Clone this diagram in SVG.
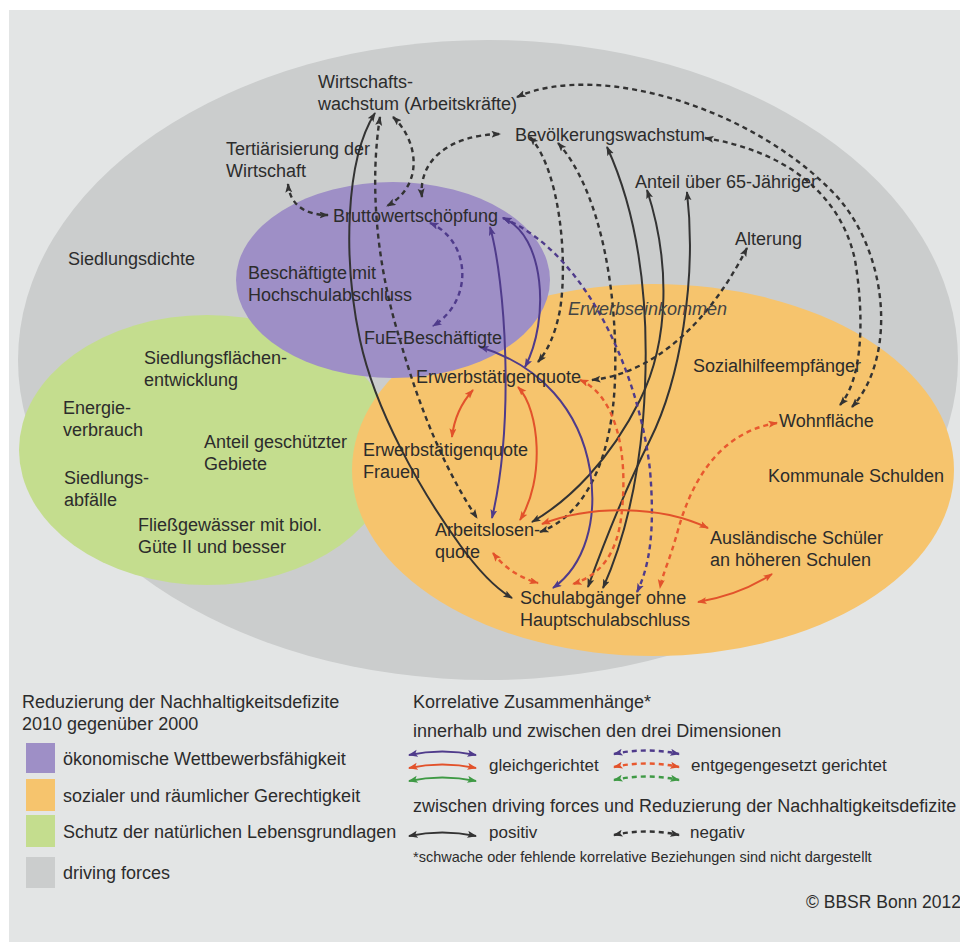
<svg xmlns="http://www.w3.org/2000/svg" width="960" height="942" viewBox="0 0 960 942">
  <defs>
    <style>
      .t { font-family: "Liberation Sans", Arial, Helvetica, sans-serif; font-size: 18px; fill: #2c2c2c; }
      .it { font-style: italic; fill: #444; }
      .sm { font-size: 17px; }
      .fn { font-size: 14.5px; }
      .k  { fill: none; stroke: #333; stroke-width: 2; }
      .kd { fill: none; stroke: #333; stroke-width: 2.4; stroke-dasharray: 5 4; }
      .p  { fill: none; stroke: #4f3b8b; stroke-width: 2; }
      .pd { fill: none; stroke: #4f3b8b; stroke-width: 2.4; stroke-dasharray: 5 4; }
      .r  { fill: none; stroke: #e2522b; stroke-width: 2; }
      .rd { fill: none; stroke: #e8592f; stroke-width: 2.4; stroke-dasharray: 5 4; }
      .g  { fill: none; stroke: #3f9a45; stroke-width: 2; }
      .gd { fill: none; stroke: #3f9a45; stroke-width: 2.4; stroke-dasharray: 5 4; }
      .k, .kd { marker-start: url(#ak); marker-end: url(#ak); }
      .p, .pd { marker-start: url(#ap); marker-end: url(#ap); }
      .r, .rd { marker-start: url(#ar); marker-end: url(#ar); }
      .g, .gd { marker-start: url(#ag); marker-end: url(#ag); }
    </style>
    <marker id="ak" markerUnits="userSpaceOnUse" markerWidth="10" markerHeight="8" refX="8.5" refY="3.5" orient="auto-start-reverse">
      <path d="M0,0 L9.5,3.5 L0,7 L2,3.5 z" fill="#333"/>
    </marker>
    <marker id="ap" markerUnits="userSpaceOnUse" markerWidth="10" markerHeight="8" refX="8.5" refY="3.5" orient="auto-start-reverse">
      <path d="M0,0 L9.5,3.5 L0,7 L2,3.5 z" fill="#4f3b8b"/>
    </marker>
    <marker id="ar" markerUnits="userSpaceOnUse" markerWidth="10" markerHeight="8" refX="8.5" refY="3.5" orient="auto-start-reverse">
      <path d="M0,0 L9.5,3.5 L0,7 L2,3.5 z" fill="#e2522b"/>
    </marker>
    <marker id="ag" markerUnits="userSpaceOnUse" markerWidth="10" markerHeight="8" refX="8.5" refY="3.5" orient="auto-start-reverse">
      <path d="M0,0 L9.5,3.5 L0,7 L2,3.5 z" fill="#3f9a45"/>
    </marker>
  </defs>

  <!-- page and panel -->
  <rect x="0" y="0" width="960" height="942" fill="#ffffff"/>
  <rect x="9" y="10" width="951" height="932" fill="#e3e5e5"/>

  <!-- dimension areas -->
  <g id="areas">
    <ellipse id="area-driving-forces" cx="488" cy="360" rx="470" ry="320" fill="#cbcdcd"/>
    <ellipse id="area-natur" cx="207" cy="450" rx="188" ry="135" fill="#c4dd8e"/>
    <ellipse id="area-sozial" cx="653" cy="470" rx="301" ry="186" fill="#f6c46d"/>
    <ellipse id="area-oekonomie" cx="393" cy="280" rx="157" ry="98" fill="#9e8fc6"/>
  </g>

  <!-- correlations -->
  <g id="connectors">
    <!-- driving forces, negative -->
    <path class="kd" d="M517,97 C600,60 760,110 840,200 C890,260 895,360 852,407"/>
    <path class="kd" d="M705,138 C780,150 840,190 855,260 C865,320 862,380 840,405"/>
    <path class="kd" d="M422,197 C418,160 450,135 500,134"/>
    <path class="kd" d="M393,117 C418,140 425,185 387,206"/>
    <path class="kd" d="M380,117 C370,180 375,260 400,340 C420,410 445,470 477,518"/>
    <path class="kd" d="M288,184 C290,205 305,215 328,215"/>
    <path class="kd" d="M530,137 C560,170 568,260 560,310 C555,335 548,350 538,362"/>
    <path class="kd" d="M558,143 C600,190 618,290 615,380 C612,460 585,515 540,532"/>
    <path class="kd" d="M592,380 C640,375 700,340 747,248"/>
    <!-- driving forces, positive -->
    <path class="k" d="M375,113 C345,160 343,260 360,340 C375,410 420,490 460,545 C478,570 495,588 512,598"/>
    <path class="k" d="M607,147 C645,230 650,330 643,420 C636,500 620,550 603,588"/>
    <path class="k" d="M687,192 C697,280 680,380 650,440 C625,490 605,540 588,587"/>
    <path class="k" d="M647,190 C670,260 670,340 640,400 C610,460 570,500 532,522"/>
    <!-- economic -->
    <path class="pd" d="M430,223 C470,240 475,300 433,326"/>
    <path class="p" d="M490,227 C505,280 515,420 492,518"/>
    <path class="p" d="M503,218 C545,235 550,320 525,367"/>
    <path class="p" d="M480,347 C540,365 580,410 590,470 C598,520 585,565 553,588"/>
    <path class="pd" d="M503,218 C590,255 640,380 650,470 C655,530 650,565 637,592"/>
    <!-- social -->
    <path class="r" d="M473,390 Q455,410 452,437"/>
    <path class="r" d="M518,387 C540,410 545,480 520,520"/>
    <path class="r" d="M542,524 C590,505 660,505 708,528"/>
    <path class="rd" d="M493,553 Q510,575 538,583"/>
    <path class="rd" d="M580,380 C615,395 628,450 622,510 C618,555 600,575 573,584"/>
    <path class="rd" d="M777,423 C720,432 692,480 678,530 C670,560 662,575 660,588"/>
    <path class="r" d="M698,602 Q740,595 772,574"/>
  </g>

  <!-- driving forces -->
  <g id="n-wirtschaftswachstum"><text class="t" x="318" y="88">Wirtschafts-</text><text class="t" x="318" y="110">wachstum (Arbeitskräfte)</text></g>
  <g id="n-tertiaerisierung"><text class="t" x="226" y="155">Tertiärisierung der</text><text class="t" x="226" y="177">Wirtschaft</text></g>
  <g id="n-bevoelkerungswachstum"><text class="t" x="515" y="141">Bevölkerungswachstum</text></g>
  <g id="n-anteil65"><text class="t" x="635" y="188">Anteil über 65-Jähriger</text></g>
  <g id="n-alterung"><text class="t" x="735" y="245">Alterung</text></g>
  <g id="n-siedlungsdichte"><text class="t" x="68" y="265">Siedlungsdichte</text></g>

  <!-- economic -->
  <g id="n-bruttowertschoepfung"><text class="t" x="333" y="222">Bruttowertschöpfung</text></g>
  <g id="n-hochschulabschluss"><text class="t" x="248" y="279">Beschäftigte mit</text><text class="t" x="248" y="301">Hochschulabschluss</text></g>
  <g id="n-fue"><text class="t" x="364" y="344">FuE-Beschäftigte</text></g>

  <!-- natural resources -->
  <g id="n-siedlungsflaeche"><text class="t" x="144" y="364">Siedlungsflächen-</text><text class="t" x="144" y="386">entwicklung</text></g>
  <g id="n-energie"><text class="t" x="63" y="414">Energie-</text><text class="t" x="63" y="436">verbrauch</text></g>
  <g id="n-schutzgebiete"><text class="t" x="204" y="448">Anteil geschützter</text><text class="t" x="204" y="470">Gebiete</text></g>
  <g id="n-abfaelle"><text class="t" x="64" y="484">Siedlungs-</text><text class="t" x="64" y="506">abfälle</text></g>
  <g id="n-fliessgewaesser"><text class="t" x="138" y="531">Fließgewässer mit biol.</text><text class="t" x="138" y="553">Güte II und besser</text></g>

  <!-- social and spatial -->
  <g id="n-erwerbseinkommen"><text class="t it" x="568" y="315">Erwerbseinkommen</text></g>
  <g id="n-erwerbstaetigenquote"><text class="t" x="416" y="383">Erwerbstätigenquote</text></g>
  <g id="n-sozialhilfe"><text class="t" x="693" y="372">Sozialhilfeempfänger</text></g>
  <g id="n-wohnflaeche"><text class="t" x="779" y="427">Wohnfläche</text></g>
  <g id="n-erwerbstaetigenquote-frauen"><text class="t" x="363" y="456">Erwerbstätigenquote</text><text class="t" x="363" y="478">Frauen</text></g>
  <g id="n-kommunale-schulden"><text class="t" x="768" y="482">Kommunale Schulden</text></g>
  <g id="n-arbeitslosenquote"><text class="t" x="435" y="536">Arbeitslosen-</text><text class="t" x="435" y="558">quote</text></g>
  <g id="n-auslaendische-schueler"><text class="t" x="710" y="544">Ausländische Schüler</text><text class="t" x="710" y="566">an höheren Schulen</text></g>
  <g id="n-schulabgaenger"><text class="t" x="520" y="604">Schulabgänger ohne</text><text class="t" x="520" y="626">Hauptschulabschluss</text></g>

  <!-- legend: areas -->
  <g id="legend-areas">
    <text class="t" x="22" y="708">Reduzierung der Nachhaltigkeitsdefizite</text>
    <text class="t" x="22" y="730">2010 gegenüber 2000</text>
    <rect x="26" y="743" width="29" height="30" fill="#9e8fc6"/>
    <text class="t" x="63" y="765">ökonomische Wettbewerbsfähigkeit</text>
    <rect x="26" y="779" width="29" height="32" fill="#f6c46d"/>
    <text class="t" x="63" y="802">sozialer und räumlicher Gerechtigkeit</text>
    <rect x="26" y="815" width="29" height="32" fill="#c4dd8e"/>
    <text class="t" x="63" y="838">Schutz der natürlichen Lebensgrundlagen</text>
    <rect x="26" y="857" width="29" height="31" fill="#cbcdcd"/>
    <text class="t" x="63" y="879">driving forces</text>
  </g>

  <!-- legend: correlations -->
  <g id="legend-links">
    <text class="t" x="413" y="708">Korrelative Zusammenhänge*</text>
    <text class="t" x="413" y="737">innerhalb und zwischen den drei Dimensionen</text>
    <path class="p" d="M409,755 Q442,748 476,755"/>
    <path class="r" d="M409,768 Q442,761 476,768"/>
    <path class="g" d="M409,781 Q442,774 476,781"/>
    <text class="t sm" x="489" y="771">gleichgerichtet</text>
    <path class="pd" d="M614,754 Q646,747 679,754"/>
    <path class="rd" d="M614,767 Q646,760 679,767"/>
    <path class="gd" d="M614,780 Q646,773 679,780"/>
    <text class="t sm" x="691" y="771">entgegengesetzt gerichtet</text>
    <text class="t" x="413" y="812">zwischen driving forces und Reduzierung der Nachhaltigkeitsdefizite</text>
    <path class="k" d="M409,836 Q442,829 476,836"/>
    <text class="t sm" x="489" y="838">positiv</text>
    <path class="kd" d="M614,835 Q646,828 679,835"/>
    <text class="t sm" x="690" y="838">negativ</text>
    <text class="t fn" x="413" y="862">*schwache oder fehlende korrelative Beziehungen sind nicht dargestellt</text>
  </g>

  <text class="t" style="font-size:17.5px" x="806" y="908">© BBSR Bonn 2012</text>
</svg>
